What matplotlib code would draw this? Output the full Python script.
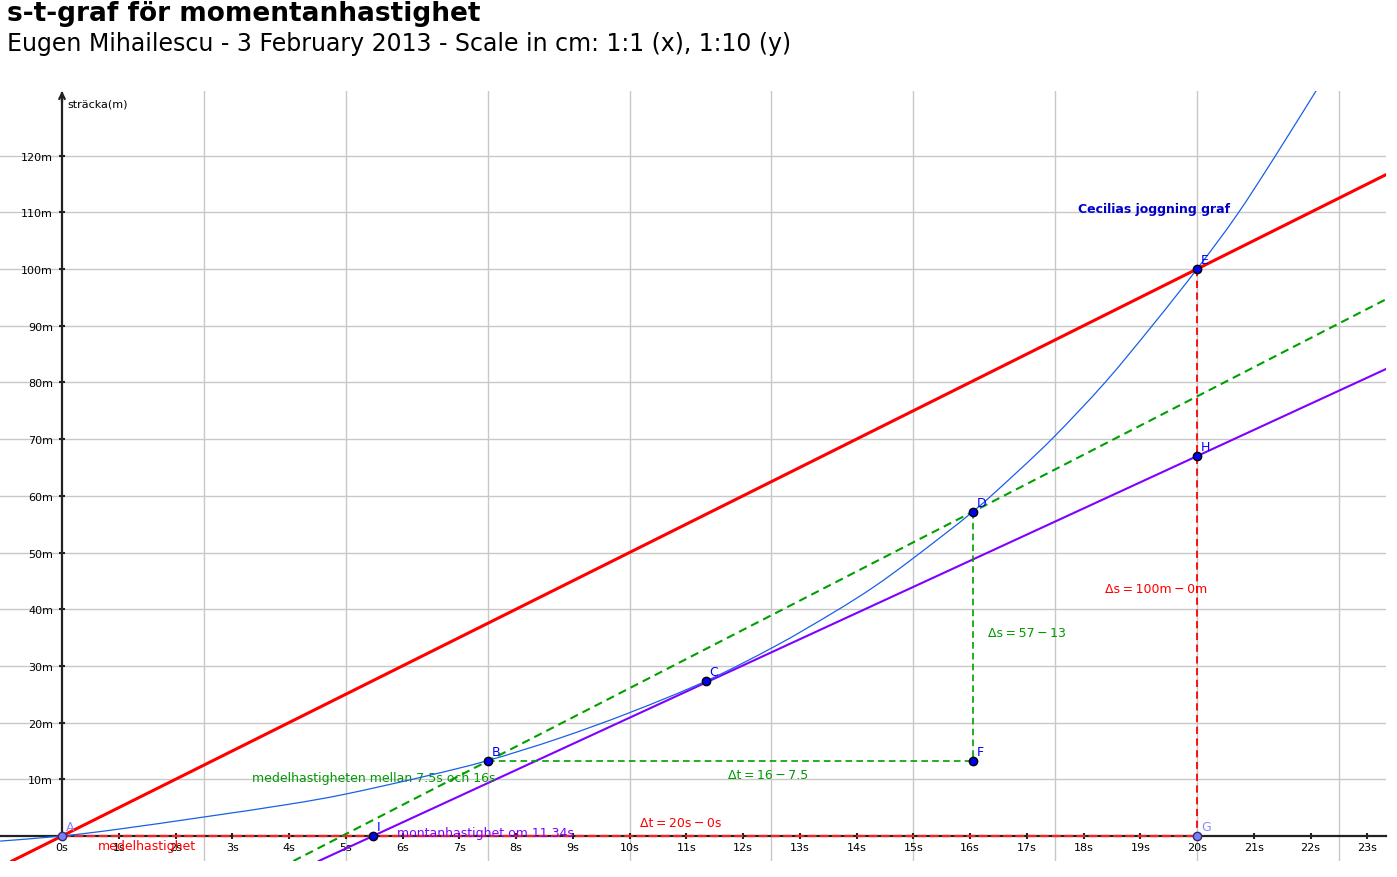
import numpy as np
import matplotlib
matplotlib.use("Agg")
import matplotlib.pyplot as plt
from matplotlib.path import Path
from matplotlib.patches import PathPatch

# Cecilias joggning graf (t in s, s in m)
curve_t = [-1.09, 0.0, 0.99, 2.5, 4.0, 5.0, 6.43, 7.5, 8.75, 10.0, 11.34, 12.57,
           13.59, 14.3, 15.0, 16.05, 16.82, 17.5, 18.38, 19.21, 20.0, 20.7,
           21.39, 22.09, 22.3]
curve_s = [-0.9, 0.0, 1.2, 3.35, 5.6, 7.4, 10.6, 13.3, 17.2, 21.75, 27.3, 33.5,
           39.4, 43.9, 49.0, 57.2, 64.1, 70.6, 80.0, 90.0, 100.0, 109.5,
           120.1, 131.3, 134.5]

pt_names = ["A", "B", "C", "D", "E", "F", "G", "H", "I"]
pt_t = [0.0, 7.5, 11.34, 16.05, 20.0, 16.05, 20.0, 20.0, 5.48]
pt_s = [0.0, 13.2, 27.3, 57.2, 100.0, 13.2, 0.0, 67.0, 0.0]

x_ticks = list(range(0, 24))
x_labels = [f"{t}s" for t in x_ticks]
y_ticks = list(range(10, 130, 10))
y_labels = [f"{s}m" for s in y_ticks]
grid_x = [2.5, 5, 7.5, 10, 12.5, 15, 17.5, 20, 22.5]

P = dict(zip(pt_names, zip(pt_t, pt_s)))


def smooth_path(xs, ys):
    # Catmull-Rom through the read points, drawn as cubic Bezier pieces
    pts = np.column_stack([xs, ys])
    verts = [pts[0]]
    codes = [Path.MOVETO]
    for i in range(len(pts) - 1):
        p0 = pts[i - 1] if i > 0 else pts[i]
        p1, p2 = pts[i], pts[i + 1]
        p3 = pts[i + 2] if i + 2 < len(pts) else pts[i + 1]
        verts += [p1 + (p2 - p0) / 6, p2 - (p3 - p1) / 6, p2]
        codes += [Path.CURVE4] * 3
    return Path(verts, codes)


W, H = 1397, 878
fig = plt.figure(figsize=(W / 100, H / 100), dpi=100)
ax = fig.add_axes([0, 16 / H, 1386 / W, 770 / H])
xmin, xmax = -1.0925, 23.33
ymin, ymax = -4.41, 131.4
ax.set_xlim(xmin, xmax)
ax.set_ylim(ymin, ymax)

# grid
for g in grid_x:
    ax.axvline(g, color="#c8c8c8", lw=1, zorder=0)
ax.grid(which="major", axis="y", color="#c8c8c8", lw=1)

# axes through origin
for side in ["top", "right"]:
    ax.spines[side].set_visible(False)
ax.spines["left"].set_position(("data", 0))
ax.spines["bottom"].set_position(("data", 0))
ax.spines["left"].set_bounds(0, ymax - 0.3)
for side in ["left", "bottom"]:
    ax.spines[side].set_linewidth(1.6)
    ax.spines[side].set_color("#222222")
ax.annotate("", xy=(0, ymax), xytext=(0, ymax - 2),
            arrowprops=dict(arrowstyle="->", lw=1.6, color="#222222",
                            shrinkA=0, shrinkB=0))

ax.set_xticks(x_ticks)
ax.set_xticklabels(x_labels)
ax.set_yticks(y_ticks)
ax.set_yticklabels(y_labels)
ax.tick_params(axis="both", which="major", direction="inout", length=5,
               width=1.5, labelsize=8, color="#222222")
ax.tick_params(axis="x", pad=2)
ax.tick_params(axis="y", pad=4)
ax.set_axisbelow(True)

# lines
dash = (0, (4, 2.5))
ax.axline(P["A"], P["E"], color="#ff0000", lw=2.2, zorder=3)
ax.axline(P["B"], P["D"], color="#00a000", lw=1.5, ls=dash, zorder=3)
ax.axline(P["I"], P["H"], color="#7f00ff", lw=1.5, zorder=3)
ax.add_patch(PathPatch(smooth_path(curve_t, curve_s), fill=False,
                       edgecolor="#1a5fe8", lw=0.9, zorder=4))

ax.plot([P["B"][0], P["F"][0]], [P["B"][1], P["F"][1]], color="#00a000",
        lw=1.2, ls=dash, zorder=3)
ax.plot([P["D"][0], P["F"][0]], [P["D"][1], P["F"][1]], color="#00a000",
        lw=1.2, ls=dash, zorder=3)
ax.plot([P["E"][0], P["G"][0]], [P["E"][1], P["G"][1]], color="#ff0000",
        lw=1.3, ls=dash, zorder=3)
ax.plot([P["A"][0], P["G"][0]], [P["A"][1], P["G"][1]], color="#ff2020",
        lw=1.6, ls=(0, (4, 1.5)), zorder=3)

# points and their names
for name, t, s in zip(pt_names, pt_t, pt_s):
    light = name in ("A", "G")
    ax.plot(t, s, "o", ms=6, mfc="#7b7bff" if light else "#0000ee",
            mec="#303060" if light else "#000000", mew=1, zorder=6,
            clip_on=False)
    ax.annotate(name, (t, s), xytext=(4, 6), textcoords="offset pixels",
                color="#8a8aff" if light else "#0000ff", fontsize=9, zorder=7)

# texts
th = "\u2009"
ax.text(0.1, 128.6, "sträcka(m)", fontsize=8, color="black")
ax.text(17.9, 110.0, "Cecilias joggning graf", fontsize=9, fontweight="bold",
        color="#0000c8")
ax.text(18.38, 43.0, f"Δs{th}={th}100m{th}−{th}0m", fontsize=9, color="#ff0000")
ax.text(16.32, 35.3, f"Δs{th}={th}57{th}−{th}13", fontsize=9, color="#009900")
ax.text(11.74, 10.2, f"Δt{th}={th}16{th}−{th}7.5", fontsize=9, color="#009900")
ax.text(10.19, 1.76, f"Δt{th}={th}20s{th}−{th}0s", fontsize=9, color="#ff0000")
ax.text(3.35, 9.7, "medelhastigheten mellan 7.5s och 16s", fontsize=9,
        color="#009900")
ax.text(5.9, 0.0, "montanhastighet om 11.34s", fontsize=9, color="#7f00ff")
ax.text(0.63, -2.3, "medelhastighet", fontsize=9, color="#ff0000")

fig.text(7 / W, 1 - 21 / H, "s-t-graf för momentanhastighet", fontsize=19,
         fontweight="bold", va="baseline")
fig.text(7 / W, 1 - 51 / H,
         "Eugen Mihailescu - 3 February 2013 - Scale in cm: 1:1 (x), 1:10 (y)",
         fontsize=17, va="baseline")

fig.savefig("out.png", dpi=100)
